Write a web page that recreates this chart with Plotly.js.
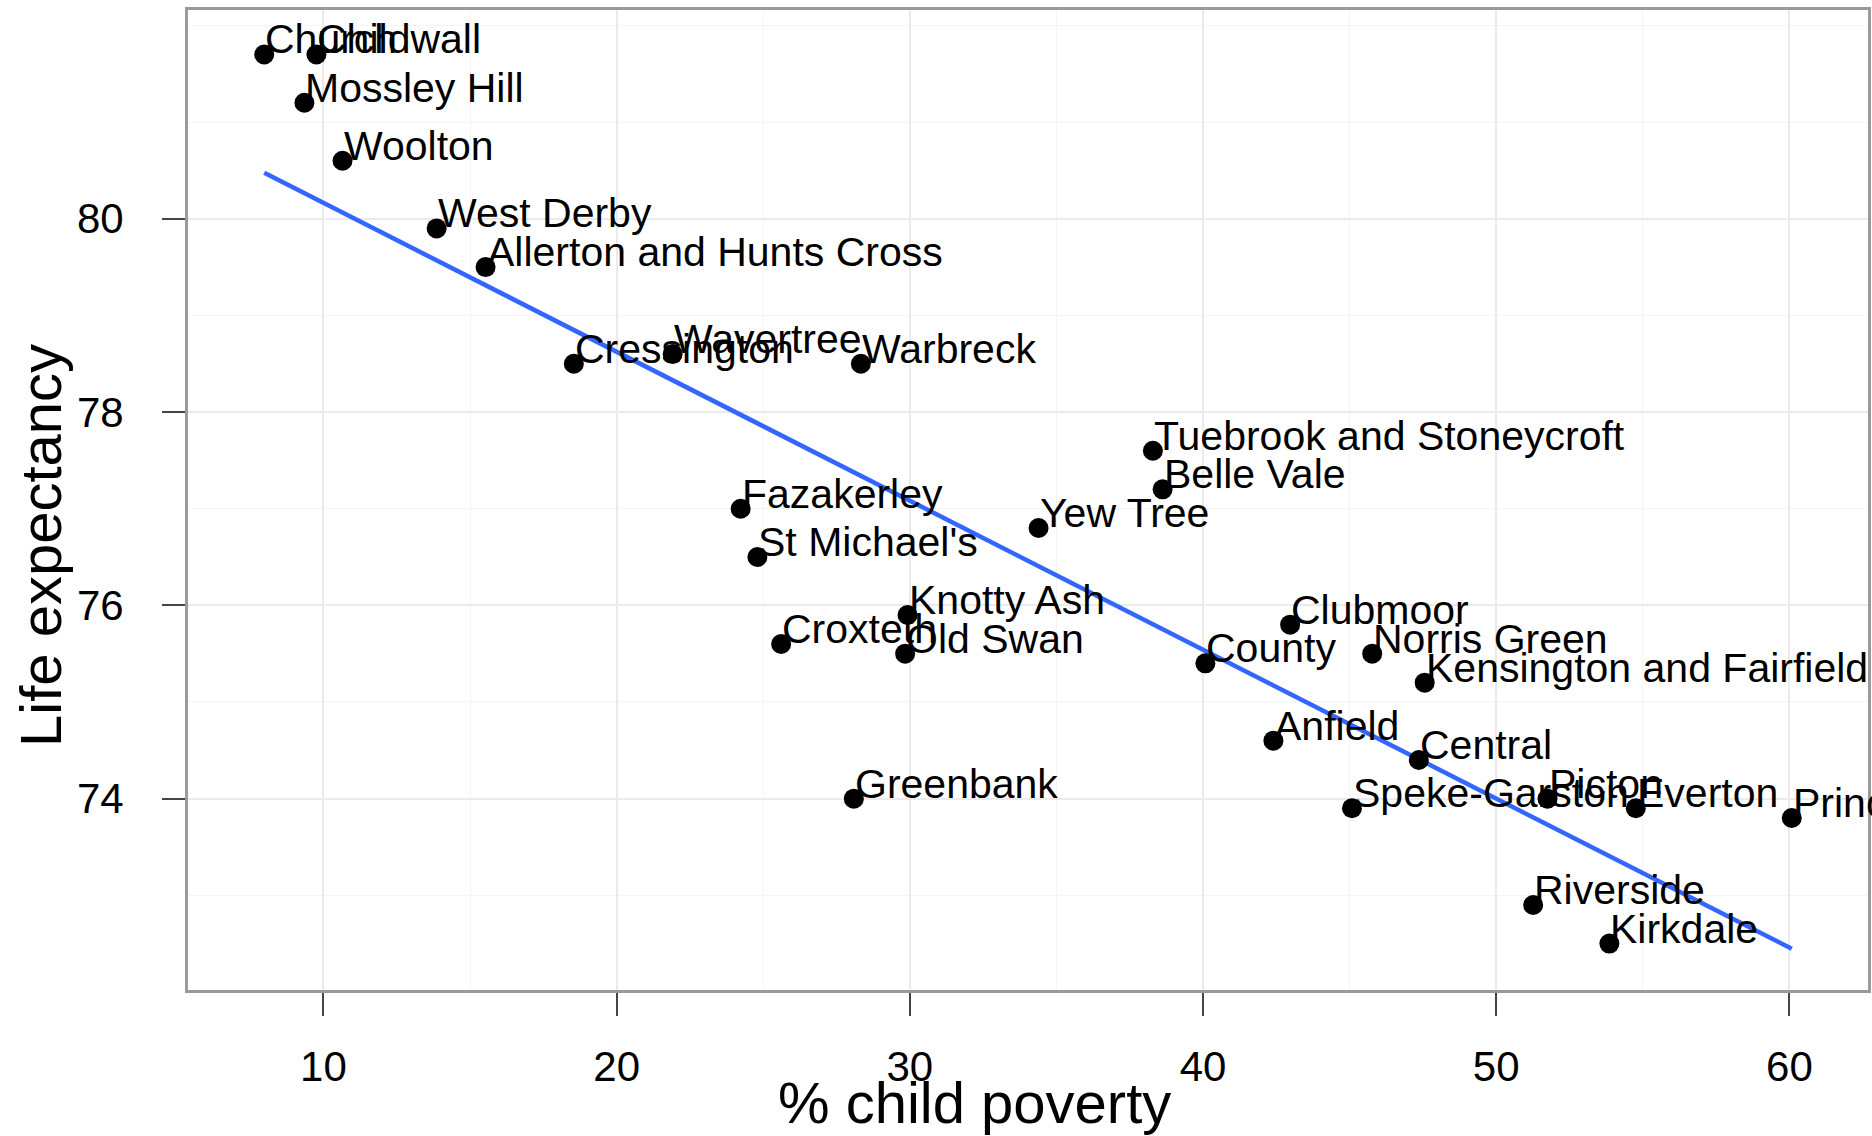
<!DOCTYPE html>
<html>
<head>
<meta charset="utf-8">
<script src="https://cdn.plot.ly/plotly-3.0.1.min.js"></script>
<style>
  html, body { margin: 0; padding: 0; background: #ffffff; }
  #chart { width: 1872px; height: 1136px; }
</style>
</head>
<body>
<div id="chart"></div>
<script>
// Liverpool wards: % child poverty vs life expectancy
const wards = [
  "Church", "Childwall", "Mossley Hill", "Woolton", "West Derby",
  "Allerton and Hunts Cross", "Cressington", "Wavertree", "Warbreck",
  "Tuebrook and Stoneycroft", "Belle Vale", "Fazakerley", "Yew Tree",
  "St Michael's", "Knotty Ash", "Croxteth", "Old Swan", "County",
  "Clubmoor", "Norris Green", "Kensington and Fairfield", "Anfield",
  "Central", "Speke-Garston", "Picton", "Everton", "Princes Park",
  "Riverside", "Kirkdale", "Greenbank"
];
const childPoverty = [
  7.98, 9.76, 9.35, 10.65, 13.86,
  15.53, 18.54, 21.91, 28.33,
  38.29, 38.62, 24.23, 34.39,
  24.80, 29.92, 25.61, 29.84, 40.08,
  42.97, 45.77, 47.56, 42.40,
  47.36, 45.08, 51.75, 54.76, 60.08,
  51.26, 53.86, 28.09
];
const lifeExpectancy = [
  81.7, 81.7, 81.2, 80.6, 79.9,
  79.5, 78.5, 78.6, 78.5,
  77.6, 77.2, 77.0, 76.8,
  76.5, 75.9, 75.6, 75.5, 75.4,
  75.8, 75.5, 75.2, 74.6,
  74.4, 73.9, 74.0, 73.9, 73.8,
  72.9, 72.5, 74.0
];
const xTickVals = [10, 20, 30, 40, 50, 60];
const yTickVals = [74, 76, 78, 80];

// least-squares fit (as geom_smooth(method = "lm"))
function linearFit(xs, ys) {
  const n = xs.length;
  const mx = xs.reduce((a, b) => a + b, 0) / n;
  const my = ys.reduce((a, b) => a + b, 0) / n;
  let sxy = 0, sxx = 0;
  for (let i = 0; i < n; i++) {
    sxy += (xs[i] - mx) * (ys[i] - my);
    sxx += (xs[i] - mx) * (xs[i] - mx);
  }
  const slope = sxy / sxx;
  return { slope: slope, intercept: my - slope * mx };
}
const fit = linearFit(childPoverty, lifeExpectancy);
const fitX = [Math.min(...childPoverty), Math.max(...childPoverty)];
const fitY = fitX.map(v => fit.intercept + fit.slope * v);

const FONT = "Liberation Sans, Arial, Helvetica, sans-serif";

const traces = [
  {
    type: "scatter", mode: "lines", x: fitX, y: fitY,
    line: { color: "#3366FF", width: 4.5 },
    hoverinfo: "skip", showlegend: false
  },
  {
    type: "scatter", mode: "markers", x: childPoverty, y: lifeExpectancy,
    text: wards,
    marker: { color: "#000000", size: 20, line: { width: 0 } },
    showlegend: false
  }
];

const labelAnnotations = wards.map((w, i) => ({
  x: childPoverty[i], y: lifeExpectancy[i], xref: "x", yref: "y",
  text: w, showarrow: false, xanchor: "left", yanchor: "bottom",
  xshift: -1, yshift: -10,
  font: { family: FONT, size: 41, color: "#000000" }
}));

const titleAnnotations = [
  {
    xref: "paper", yref: "paper", x: 0.468, y: -0.1143,
    xanchor: "center", yanchor: "middle", showarrow: false,
    text: "% child poverty",
    font: { family: FONT, size: 58, color: "#000000" }
  },
  {
    xref: "paper", yref: "paper", x: -0.0882, y: 0.454,
    xanchor: "center", yanchor: "middle", showarrow: false, textangle: -90,
    text: "Life expectancy",
    font: { family: FONT, size: 58, color: "#000000" }
  }
];

const layout = {
  width: 1872, height: 1136,
  margin: { l: 188, r: 4, t: 10, b: 146, pad: 0 },
  paper_bgcolor: "#ffffff", plot_bgcolor: "#ffffff",
  font: { family: FONT, color: "#000000" },
  showlegend: false,
  xaxis: {
    range: [5.38, 62.68], tickvals: xTickVals, ticktext: xTickVals.map(String),
    ticks: "outside", ticklen: 23, tickwidth: 2, tickcolor: "#444444",
    ticklabelstandoff: 15,
    tickfont: { family: FONT, size: 42, color: "#000000" },
    showgrid: true, gridcolor: "#EBEBEB", gridwidth: 2,
    minor: { dtick: 5, tick0: 0, showgrid: true, gridcolor: "#F4F4F4", gridwidth: 1, ticks: "" },
    zeroline: false,
    showline: true, linecolor: "#9A9A9A", linewidth: 3, mirror: true
  },
  yaxis: {
    range: [72.02, 82.16], tickvals: yTickVals, ticktext: yTickVals.map(String),
    ticks: "outside", ticklen: 23, tickwidth: 2, tickcolor: "#444444",
    ticklabelstandoff: 30,
    tickfont: { family: FONT, size: 42, color: "#000000" },
    showgrid: true, gridcolor: "#EBEBEB", gridwidth: 2,
    minor: { dtick: 1, tick0: 0, showgrid: true, gridcolor: "#F4F4F4", gridwidth: 1, ticks: "" },
    zeroline: false,
    showline: true, linecolor: "#9A9A9A", linewidth: 3, mirror: true
  },
  annotations: labelAnnotations.concat(titleAnnotations)
};

Plotly.newPlot("chart", traces, layout, { staticPlot: true, displayModeBar: false });
</script>
</body>
</html>
